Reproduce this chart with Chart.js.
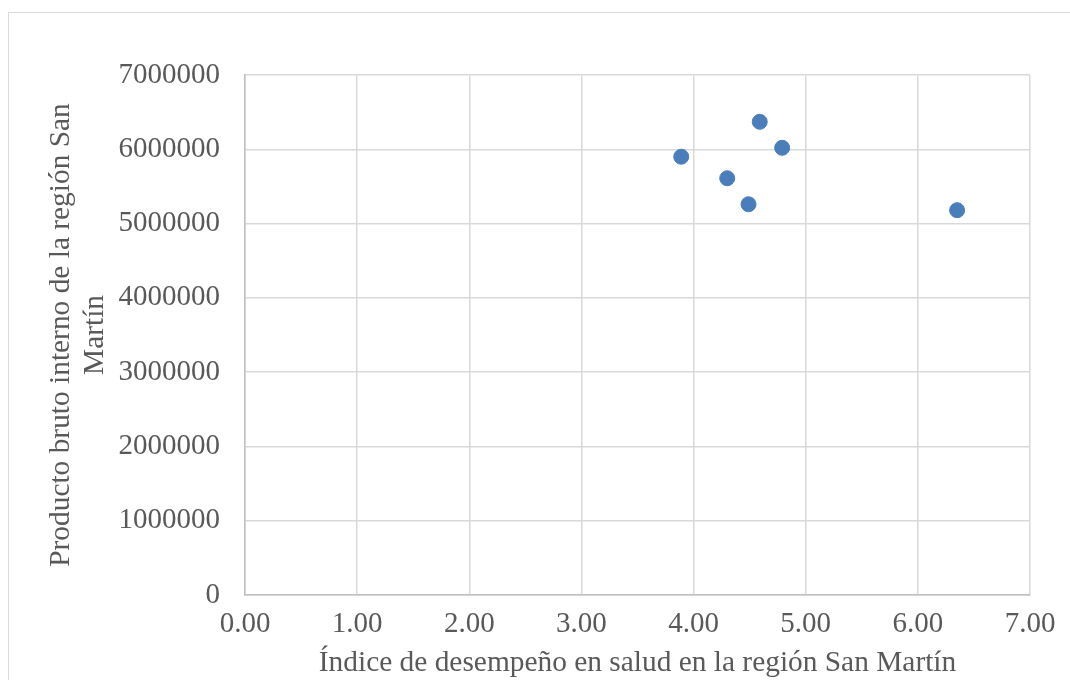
<!DOCTYPE html>
<html>
<head>
<meta charset="utf-8">
<script src="https://cdn.jsdelivr.net/npm/chart.js@4/dist/chart.umd.min.js"></script>
<style>
    body { margin: 0; background: #fff; overflow: hidden; }
    #wrap { position: relative; width: 1070px; height: 680px; }
    #frame { position: absolute; left: 8px; top: 12px; width: 1080px; height: 700px; border: 1px solid #d9d9d9; }
    canvas { position: absolute; left: 0; top: 0; }
</style>
</head>
<body>
<div id="wrap">
    <div id="frame"></div>
    <canvas id="scatter" width="1070" height="680"></canvas>
</div>
<script>
// valores
const indiceSalud = [3.89, 4.30, 4.49, 4.59, 4.79, 6.35];
const pbiRegion = [5900000, 5610000, 5260000, 6370000, 6020000, 5180000];
const xTitle = "Índice de desempeño en salud en la región San Martín";
const yTitle = ["Producto bruto interno de la región San", "Martín"];

const points = indiceSalud.map((x, i) => ({ x: x, y: pbiRegion[i] }));
const serif = "'Liberation Serif', 'Times New Roman', serif";

const ctx = document.getElementById("scatter").getContext("2d");

new Chart(ctx, {
    type: "scatter",
    data: {
        datasets: [{
            data: points,
            backgroundColor: "#4a7ebb",
            borderColor: "#4a7ebb",
            pointRadius: 7.5,
            pointHoverRadius: 7.5
        }]
    },
    options: {
        responsive: false,
        animation: false,
        layout: {
            padding: { left: 0, top: 75, right: 40, bottom: 0 }
        },
        plugins: {
            legend: { display: false },
            tooltip: { enabled: false }
        },
        scales: {
            x: {
                type: "linear",
                min: 0,
                max: 7,
                afterFit: scale => { scale.height = 85; },
                grid: { color: "#d9d9d9", lineWidth: 1.5, drawTicks: false },
                border: { color: "#bfbfbf", width: 1.5 },
                ticks: {
                    stepSize: 1,
                    padding: 12,
                    color: "#595959",
                    font: { family: serif, size: 29 },
                    callback: v => v.toFixed(2)
                },
                title: {
                    display: true,
                    text: xTitle,
                    color: "#595959",
                    font: { family: serif, size: 29.4, lineHeight: 1.13 },
                    padding: { top: 0, bottom: 0 }
                }
            },
            y: {
                min: 0,
                max: 7000000,
                afterFit: scale => { scale.width = 245; },
                grid: { color: "#d9d9d9", lineWidth: 1.5, drawTicks: false },
                border: { color: "#bfbfbf", width: 1.5 },
                ticks: {
                    stepSize: 1000000,
                    padding: 25,
                    color: "#595959",
                    font: { family: serif, size: 29 },
                    callback: v => String(v)
                },
                title: {
                    display: true,
                    text: yTitle,
                    color: "#595959",
                    font: { family: serif, size: 29.4, lineHeight: 1.13 },
                    padding: { top: 45, bottom: 0 }
                }
            }
        }
    }
});
</script>
</body>
</html>
